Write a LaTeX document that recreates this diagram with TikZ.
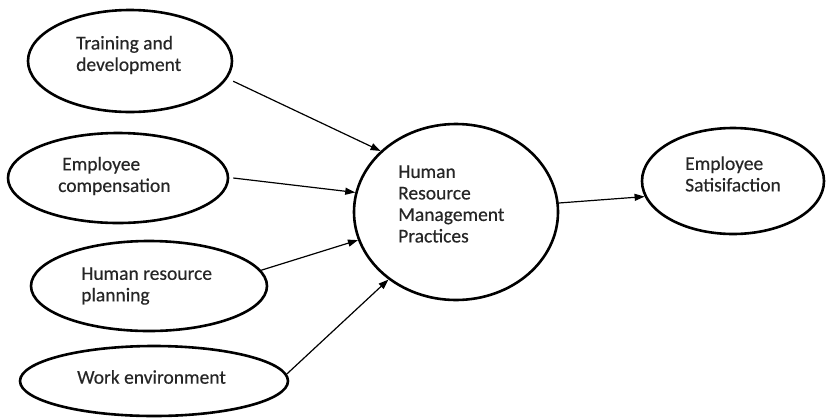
\documentclass[tikz,border=0pt]{standalone}
\usepackage{fontspec}
\setmainfont{Carlito}
\newfontfamily\labelfont{Carlito}[FakeBold=0.4]
\usetikzlibrary{shapes.geometric,arrows.meta}
\begin{document}
\begin{tikzpicture}[x=1pt,y=-1pt,
  oval/.style={ellipse,draw=black,line width=2.6pt,inner sep=0pt},
  lbl/.style={anchor=west,align=left,inner sep=0pt,text=black!85,
    font=\labelfont\fontsize{19.5}{21.5}\selectfont},
  link/.style={line width=1.2pt,-{Triangle[length=10pt,width=7pt]}}]
\useasboundingbox (0,0) rectangle (826,418);
% factor ovals
\node[oval,minimum width=204pt,minimum height=102pt] (e1) at (130,61) {};
\node[oval,minimum width=220pt,minimum height=90pt] (e2) at (118,178) {};
\node[oval,minimum width=236pt,minimum height=90pt] (e3) at (149,286) {};
\node[oval,minimum width=268pt,minimum height=70pt] (e4) at (154,381) {};
% central construct and outcome
\node[oval,minimum width=204pt,minimum height=176pt] (hrm) at (456,212) {};
\node[oval,minimum width=182pt,minimum height=106pt] (es) at (733,181) {};
% labels
\node[lbl] (t1) at (76,55) {Training and\\development};
\node[lbl] (t2) at (58,176) {\hspace*{4pt}Employee\\compensation};
\node[lbl] (t3) at (81,286) {Human resource\\planning};
\node[lbl] (t4) at (77,377) {Work environment};
\node[lbl] (t5) at (398,204) {Human\\Resource\\Management\\Practices};
\node[lbl] (t6) at (685,174) {Employee\\Satisifaction};
% arrows
\draw[link] ([xshift=8pt]e1.-12) -- (hrm.141);
\draw[link] ([xshift=4pt]e2.0) -- (hrm.169);
\draw[link] (e3.8) -- (hrm.196);
\draw[link] (e4.3) -- (hrm.225);
\draw[link] (hrm.5) -- (es.190);
\end{tikzpicture}
\end{document}
